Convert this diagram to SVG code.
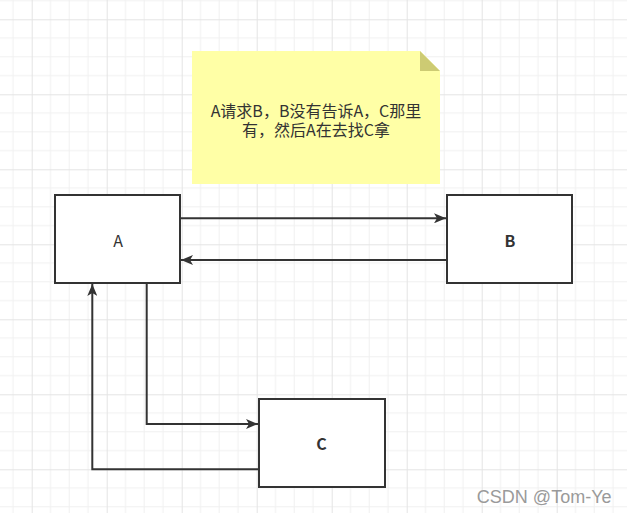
<svg xmlns="http://www.w3.org/2000/svg" width="627" height="513" viewBox="0 0 627 513">
<style>
.box{fill:#ffffff;stroke:#333333;stroke-width:2}
.lbl{font-family:"Noto Sans CJK SC","Noto Sans",sans-serif;font-size:16px;fill:#333333;text-anchor:middle;dominant-baseline:central}
.bold{font-weight:bold}
.conn{fill:none;stroke:#333333;stroke-width:2}
.minor{stroke:#f0f0f0;stroke-width:1}
.major{stroke:#e4e4e4;stroke-width:1}
</style>
<defs>
<pattern id="grid" x="31.7" y="19.3" width="75" height="75" patternUnits="userSpaceOnUse">
<path class="minor" d="M18.75,0V75M37.5,0V75M56.25,0V75M0,18.75H75M0,37.5H75M0,56.25H75"/>
<path class="major" d="M0.5,0V75M0,0.5H75"/>
</pattern>
<marker id="arr" viewBox="0 0 12 10" refX="12" refY="5" markerWidth="12" markerHeight="10" markerUnits="userSpaceOnUse" orient="auto">
<path d="M0,0L12,5L0,10L3,5Z" fill="#333333"/>
</marker>
</defs>
<rect width="627" height="513" fill="#ffffff"/>
<rect width="627" height="513" fill="url(#grid)"/>
<g id="note">
<path d="M192,51H420L440,71V184H192Z" fill="#ffffa6"/>
<path d="M420,51L440,71H420Z" fill="#cdcb73"/>
<text class="lbl" x="316" y="110" font-size="16.2"><tspan x="316" y="109.5">A请求B，B没有告诉A，C那里</tspan><tspan x="316" y="128.5">有，然后A在去找C拿</tspan></text>
</g>
<g id="connectors">
<path class="conn" d="M181,218.3H446" marker-end="url(#arr)"/>
<path class="conn" d="M446,260H181" marker-end="url(#arr)"/>
<path class="conn" d="M146.7,284V424H258" marker-end="url(#arr)"/>
<path class="conn" d="M258,469.3H92.3V284" marker-end="url(#arr)"/>
</g>
<g id="nodeA">
<rect class="box" x="55" y="195" width="125" height="88"/>
<text class="lbl" x="118" y="240">A</text>
</g>
<g id="nodeB">
<rect class="box" x="447" y="195" width="125" height="88"/>
<text class="lbl bold" x="510" y="240">B</text>
</g>
<g id="nodeC">
<rect class="box" x="259" y="399" width="126" height="88"/>
<text class="lbl bold" x="321.5" y="443">C</text>
</g>
<text x="611.5" y="503" font-family="Liberation Sans, Arial, sans-serif" font-size="18" fill="#9a9a9a" text-anchor="end">CSDN @Tom-Ye</text>
</svg>
